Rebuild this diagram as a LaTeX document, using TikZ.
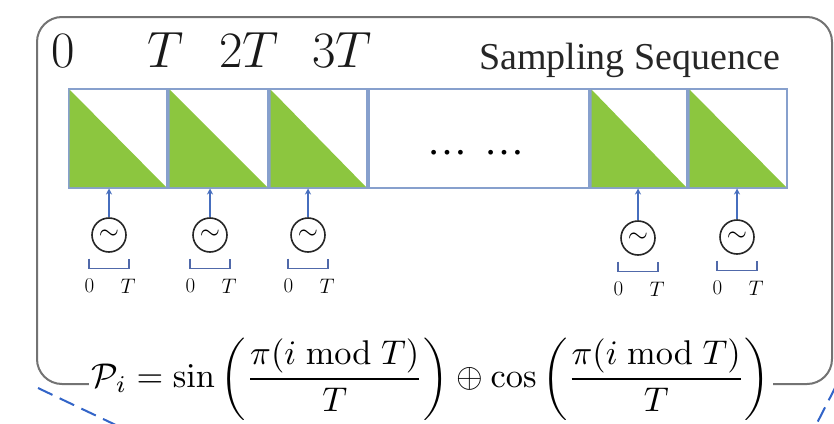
\RequirePackage{fix-cm}
\documentclass[tikz,border=0pt]{standalone}
\usepackage{amsmath}
\usepackage{graphicx}
\usepackage[no-math]{fontspec}
\newfontfamily\timesfont{Liberation Serif}
\usetikzlibrary{arrows.meta,calc}
\definecolor{trigreen}{RGB}{140,198,63}
\definecolor{cellborder}{RGB}{135,160,205}
\definecolor{arrowblue}{RGB}{70,110,190}
\definecolor{brkblue}{RGB}{80,105,170}
\definecolor{boxgray}{RGB}{115,115,115}
\definecolor{dashblue}{RGB}{50,100,200}
\tikzset{
  cellbox/.style={draw=cellborder, line width=1.5pt, minimum height=99pt, inner sep=0pt, anchor=north west},
  tri/.style={fill=trigreen},
  osc/.style={circle, draw=black!85, line width=1.6pt, minimum size=34pt, inner sep=0pt, font=\fontsize{26}{26}\selectfont},
  arr/.style={arrowblue, line width=1.6pt, -{Stealth[length=6pt,width=6pt]}},
  brk/.style={brkblue, line width=1.5pt},
  lbl/.style={font=\fontsize{21}{21}\selectfont, inner sep=0pt},
  toplbl/.style={font=\fontsize{51}{51}\selectfont, anchor=base, inner sep=0pt, text=black!90},
  dashline/.style={dashblue, line width=2pt, dash pattern=on 16pt off 8pt}
}
\begin{document}
\begin{tikzpicture}[x=1pt,y=-1pt]
\useasboundingbox (0,0) rectangle (834,423);
\fill[white] (0,0) rectangle (834,423);
\clip (0,0) rectangle (834,423);

% outer rounded frame
\draw[boxgray, line width=2pt, rounded corners=25pt] (37,17) rectangle (832,384);

% top labels
\node[toplbl] (l0) at (63,67.5) {$0$};
\node[toplbl] (l1) at (166,67.5) {$T$};
\node[toplbl] (l2) at (249,67.5) {$2T$};
\node[toplbl] (l3) at (342,67.5) {$3T$};
\node[anchor=base west, inner sep=0pt, text=black!85] (title) at (479,69) {\timesfont\fontsize{38}{38}\selectfont Sampling Sequence};

% cells
\node[cellbox, minimum width=98pt] (c1) at (68,88) {};
\node[cellbox, minimum width=99pt] (c2) at (168,88) {};
\node[cellbox, minimum width=97pt] (c3) at (269,88) {};
\node[cellbox, minimum width=220pt] (c4) at (368,88) {};
\node[cellbox, minimum width=96pt] (c5) at (590,88) {};
\node[cellbox, minimum width=98pt] (c6) at (688,88) {};
\foreach \c in {c1,c2,c3,c5,c6}{
  \fill[tri] ([shift={(1.5,1.5)}]\c.north west) -- ([shift={(1.5,-1.5)}]\c.south west) -- ([shift={(-1.5,-1.5)}]\c.south east) -- cycle;
}
\node[anchor=base, inner sep=0pt] (dots) at (476,154) {\timesfont\fontsize{40}{40}\selectfont …\hspace{0.42em}…};

% oscillators
\node[osc] (o1) at (109,235) {$\sim$};
\node[osc] (o2) at (210,235) {$\sim$};
\node[osc] (o3) at (308,235) {$\sim$};
\node[osc] (o5) at (638,238) {$\sim$};
\node[osc] (o6) at (737,237) {$\sim$};

\draw[arr] (o1) -- (o1 |- c1.south);
\draw[arr] (o2) -- (o2 |- c2.south);
\draw[arr] (o3) -- (o3 |- c3.south);
\draw[arr] (o5) -- (o5 |- c5.south);
\draw[arr] (o6) -- (o6 |- c6.south);

\foreach \o in {o1,o2,o3,o5,o6}{
  \draw[brk] ($(\o)+(-20,23.5)$) -- ++(0,10) -- ++(40,0) -- ++(0,-10);
  \node[lbl] (\o z) at ($(\o)+(-19.5,51)$) {$0$};
  \node[lbl] (\o t) at ($(\o)+(19,51)$) {$T$};
}

% formula
\node[fill=white, inner xsep=3pt, inner ysep=2pt] (eq) at (431,379) {\resizebox{678pt}{!}{$\displaystyle \mathcal{P}_i = \sin\left(\frac{\pi(i \bmod T)}{T}\right) \oplus \cos\left(\frac{\pi(i \bmod T)}{T}\right)$}};

% dashed lines
\coordinate (dl1) at (38,388);
\coordinate (dl2) at (120,427);
\coordinate (dr1) at (836,386);
\coordinate (dr2) at (815,427);
\draw[dashline] (dl1) -- (dl2);
\draw[dashline] (dr1) -- (dr2);
\end{tikzpicture}
\end{document}
